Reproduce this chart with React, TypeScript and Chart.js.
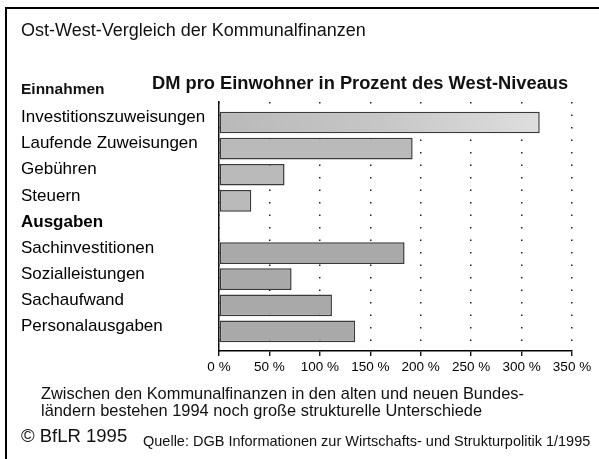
import React, { useEffect, useRef } from "react";
import { Chart, registerables } from "chart.js";

Chart.register(...registerables);

const FONT = "'Liberation Sans', Arial, Helvetica, sans-serif";

const titleText = "Ost-West-Vergleich der Kommunalfinanzen";
const unitText = "DM pro Einwohner in Prozent des West-Niveaus";
const firstGroup = "Einnahmen";
const secondGroup = "Ausgaben";
const categories = [
  "Investitionszuweisungen",
  "Laufende Zuweisungen",
  "Gebühren",
  "Steuern",
  "Ausgaben",
  "Sachinvestitionen",
  "Sozialleistungen",
  "Sachaufwand",
  "Personalausgaben",
];
const values: (number | null)[] = [318, 192, 65, 32, null, 184, 72, 112, 135];
const xTicks = [0, 50, 100, 150, 200, 250, 300, 350];
const noteLines = [
  "Zwischen den Kommunalfinanzen in den alten und neuen Bundes-",
  "ländern bestehen 1994 noch große strukturelle Unterschiede",
];
const copyright = "© BfLR 1995";
const source = "Quelle: DGB Informationen zur Wirtschafts- und Strukturpolitik 1/1995";

export default function App() {
  const ref = useRef<HTMLCanvasElement | null>(null);

  useEffect(() => {
    if (!ref.current) return;
    const headingIndex = categories.indexOf(secondGroup);
    const points = values
      .map((v, i) => (v == null ? null : { x: v, y: i }))
      .filter((p) => p !== null) as { x: number; y: number }[];

    const chart = new Chart(ref.current, {
      type: "bar",
      data: {
        datasets: [
          {
            data: points as any,
            backgroundColor: (ctx: any) => {
              const raw = ctx.raw;
              if (!raw) return "#bdbdbd";
              if (raw.y === 0) {
                const c = ctx.chart;
                const xs = c.scales?.x;
                if (!xs || !c.ctx) return "#c4c4c4";
                const x0 = xs.getPixelForValue(0);
                const x1 = xs.getPixelForValue(raw.x);
                if (!isFinite(x0) || !isFinite(x1) || x1 <= x0) return "#c4c4c4";
                const g = c.ctx.createLinearGradient(x0, 0, x1, 0);
                g.addColorStop(0, "#b9b9b9");
                g.addColorStop(0.5, "#c6c6c6");
                g.addColorStop(1, "#dedede");
                return g;
              }
              return raw.y > headingIndex ? "#a9a9a9" : "#bababa";
            },
            borderColor: "#3a3a3a",
            borderWidth: 1.5,
            borderSkipped: false,
            barPercentage: 0.83,
            categoryPercentage: 1,
          },
        ],
      },
      options: {
        indexAxis: "y",
        animation: false,
        responsive: false,
        maintainAspectRatio: false,
        layout: { padding: { left: 21, top: 102, right: 27, bottom: 78 } },
        plugins: {
          legend: { display: false },
          tooltip: { enabled: false },
          title: { display: false },
        },
        scales: {
          x: {
            type: "linear",
            position: "bottom",
            min: 0,
            max: 350,
            afterBuildTicks: (s: any) => {
              s.ticks = xTicks.map((v) => ({ value: v }));
            },
            afterFit: (s: any) => {
              s.height = 30;
            },
            ticks: {
              callback: (v: any) => `${v} %`,
              font: { family: FONT, size: 13.5 },
              color: "#000",
              padding: 3,
              maxRotation: 0,
              autoSkip: false,
            },
            grid: {
              display: true,
              color: "#222",
              lineWidth: 1.5,
              drawTicks: true,
              tickLength: 5,
              tickColor: "#000",
              tickWidth: 1.3,
              tickBorderDash: [],
            },
            border: {
              display: true,
              color: "#000",
              width: 1.5,
              dash: [1.5, 11],
              dashOffset: 0,
            },
          },
          y: {
            type: "linear",
            position: "left",
            reverse: true,
            offset: false,
            min: -0.785,
            max: 8.75,
            afterBuildTicks: (s: any) => {
              s.ticks = categories.map((_, i) => ({ value: i }));
            },
            afterFit: (s: any) => {
              s.width = 198;
            },
            ticks: {
              callback: (v: any) => categories[v] ?? "",
              font: (ctx: any) => ({
                family: FONT,
                size: 17,
                weight: ctx.tick && categories[ctx.tick.value] === secondGroup ? "bold" : "normal",
              }),
              color: "#000",
              crossAlign: "far",
              labelOffset: -5,
              autoSkip: false,
            },
            grid: { display: false, drawTicks: false, offset: false },
            border: { display: true, color: "#111", width: 1.5 },
          },
        },
      } as any,
    });
    return () => chart.destroy();
  }, []);

  const txt: React.CSSProperties = {
    position: "absolute",
    fontFamily: FONT,
    color: "#111",
    whiteSpace: "nowrap",
    margin: 0,
  };

  return (
    <div
      style={{
        position: "fixed",
        left: 0,
        top: 0,
        width: 599,
        height: 459,
        background: "#fff",
        overflow: "hidden",
      }}
    >
      <div
        style={{
          position: "absolute",
          left: 5,
          top: 7,
          width: 600,
          height: 460,
          borderTop: "2px solid #000",
          borderLeft: "2px solid #000",
        }}
      />
      <canvas
        ref={ref}
        width={599}
        height={459}
        style={{ position: "absolute", left: 0, top: 0, width: 599, height: 459 }}
      />
      <div style={{ ...txt, left: 21, top: 21, fontSize: 18, lineHeight: "18px" }}>{titleText}</div>
      <div style={{ ...txt, left: 152, top: 73.5, fontSize: 18.3, lineHeight: "18.3px", fontWeight: "bold" }}>
        {unitText}
      </div>
      <div style={{ ...txt, left: 21, top: 81, fontSize: 15.5, lineHeight: "15.5px", fontWeight: "bold" }}>
        {firstGroup}
      </div>
      <div style={{ ...txt, left: 41, top: 385, fontSize: 16.4, lineHeight: "16.5px" }}>
        {noteLines.map((l, i) => (
          <div key={i}>{l}</div>
        ))}
      </div>
      <div style={{ ...txt, left: 21, top: 427, fontSize: 18.5, lineHeight: "18.5px" }}>{copyright}</div>
      <div style={{ ...txt, left: 143, top: 434, fontSize: 14.5, lineHeight: "14.5px" }}>{source}</div>
    </div>
  );
}
